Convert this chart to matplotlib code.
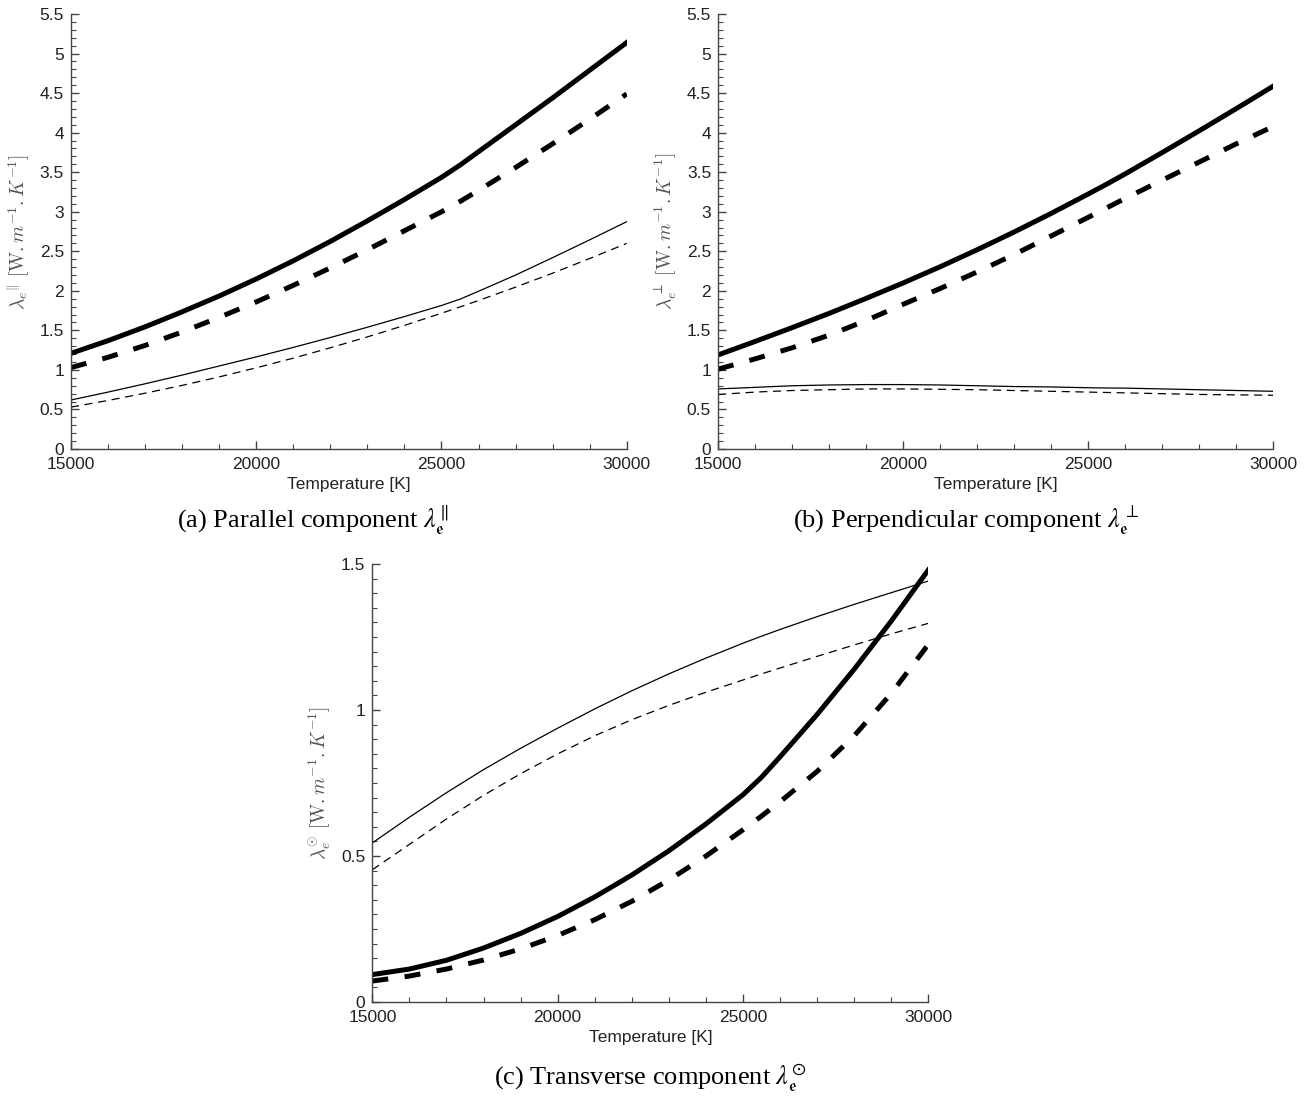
import numpy as np
import matplotlib.pyplot as plt
from matplotlib.ticker import MultipleLocator, FormatStrFormatter

T = [15000, 16000, 17000, 18000, 19000, 20000, 21000, 22000, 23000,
     24000, 25000, 25500, 26000, 27000, 28000, 29000, 30000]

# (a) composante parallele
par_thick = [1.21, 1.37, 1.545, 1.735, 1.935, 2.15, 2.38, 2.625, 2.885,
             3.155, 3.435, 3.59, 3.76, 4.10, 4.44, 4.79, 5.14]
par_thick_dash = [1.03, 1.16, 1.31, 1.48, 1.665, 1.86, 2.07, 2.29, 2.52,
                  2.76, 3.00, 3.13, 3.27, 3.56, 3.86, 4.17, 4.49]
par_thin = [0.62, 0.72, 0.825, 0.935, 1.05, 1.165, 1.285, 1.41, 1.54,
            1.675, 1.815, 1.895, 1.995, 2.20, 2.42, 2.645, 2.875]
par_thin_dash = [0.53, 0.614, 0.706, 0.805, 0.912, 1.027, 1.149, 1.28, 1.418,
                 1.563, 1.717, 1.797, 1.878, 2.047, 2.224, 2.409, 2.60]

# (b) composante perpendiculaire
perp_thick = [1.19, 1.36, 1.535, 1.715, 1.905, 2.10, 2.305, 2.52, 2.745,
              2.98, 3.225, 3.35, 3.48, 3.75, 4.025, 4.305, 4.59]
perp_thick_dash = [1.01, 1.14, 1.28, 1.44, 1.625, 1.83, 2.03, 2.24, 2.46,
                   2.695, 2.93, 3.05, 3.17, 3.40, 3.63, 3.86, 4.08]
perp_thin = [0.76, 0.78, 0.80, 0.81, 0.815, 0.815, 0.81, 0.80, 0.79,
             0.785, 0.775, 0.772, 0.77, 0.76, 0.75, 0.74, 0.73]
perp_thin_dash = [0.69, 0.72, 0.74, 0.75, 0.76, 0.76, 0.755, 0.75, 0.74,
                  0.73, 0.72, 0.715, 0.71, 0.70, 0.69, 0.685, 0.68]

# (c) composante transverse
trans_thick = [0.094, 0.113, 0.143, 0.185, 0.235, 0.293, 0.36, 0.435, 0.518,
               0.61, 0.71, 0.77, 0.84, 0.985, 1.14, 1.305, 1.48]
trans_thick_dash = [0.072, 0.089, 0.113, 0.144, 0.182, 0.228, 0.282, 0.345, 0.418,
                    0.50, 0.59, 0.637, 0.686, 0.79, 0.912, 1.057, 1.225]
trans_thin = [0.545, 0.633, 0.717, 0.796, 0.869, 0.938, 1.004, 1.066, 1.124,
              1.178, 1.229, 1.253, 1.276, 1.32, 1.362, 1.402, 1.442]
trans_thin_dash = [0.453, 0.54, 0.627, 0.708, 0.782, 0.85, 0.912, 0.967, 1.016,
                   1.061, 1.103, 1.124, 1.144, 1.184, 1.223, 1.261, 1.297]

plt.rcParams['font.family'] = ['Liberation Sans', 'DejaVu Sans']

fig = plt.figure(figsize=(13.12, 11.06), dpi=100)

GREY = '#444444'


def panel(rect, series, ymax, ymajor, yminor, ylabel):
    ax = fig.add_axes(rect)
    thick, thick_dash, thin, thin_dash = series
    ax.plot(T, thin, color='black', lw=0.9)
    ax.plot(T, thin_dash, color='black', lw=0.9, dashes=(6.5, 4.5))
    ax.plot(T, thick, color='black', lw=3.6, solid_joinstyle='round')
    ax.plot(T, thick_dash, color='black', lw=3.6, dashes=(3.2, 3.3))
    ax.set_xlim(15000, 30000)
    ax.set_ylim(0, ymax)
    for s in ['top', 'right']:
        ax.spines[s].set_visible(False)
    for s in ['left', 'bottom']:
        ax.spines[s].set_color(GREY)
        ax.spines[s].set_linewidth(1.0)
    ax.xaxis.set_major_locator(MultipleLocator(5000))
    ax.xaxis.set_minor_locator(MultipleLocator(1000))
    ax.yaxis.set_major_locator(MultipleLocator(ymajor))
    ax.yaxis.set_minor_locator(MultipleLocator(yminor))
    ax.yaxis.set_major_formatter(FormatStrFormatter('%g'))
    ax.tick_params(which='both', direction='in', color=GREY, labelcolor='#222222',
                   labelsize=12.5)
    ax.tick_params(which='major', length=6, width=1.0)
    ax.tick_params(which='minor', length=3.5, width=0.8)
    ax.tick_params(axis='x', pad=6)
    ax.tick_params(axis='y', pad=5)
    ax.set_xlabel('Temperature [K]', fontsize=12.5, color='#222222', labelpad=3)
    ax.set_ylabel(ylabel, fontsize=14, color='#555555', math_fontfamily='cm')
    ax.yaxis.set_label_coords(-0.07, 0.5)
    return ax


panel([0.0541, 0.594, 0.4236, 0.3933],
      (par_thick, par_thick_dash, par_thin, par_thin_dash), 5.5, 0.5, 0.1,
      r'$\lambda_e{}^{\|}\ [\mathrm{W}{.}m^{-1}{.}K^{-1}]$')
panel([0.5473, 0.594, 0.4233, 0.3933],
      (perp_thick, perp_thick_dash, perp_thin, perp_thin_dash), 5.5, 0.5, 0.1,
      r'$\lambda_e^{\perp}\ [\mathrm{W}{.}m^{-1}{.}K^{-1}]$')
panel([0.2838, 0.094, 0.4238, 0.396],
      (trans_thick, trans_thick_dash, trans_thin, trans_thin_dash), 1.5, 0.5, 0.05,
      r'$\lambda_e^{\odot}\ [\mathrm{W}{.}m^{-1}{.}K^{-1}]$')

cap = dict(fontsize=19, family='Liberation Serif', math_fontfamily='stix',
           ha='center', va='center')
fig.text(313 / 1312, 1 - 520 / 1106,
         r'(a) Parallel component $\lambda_{\mathfrak{e}}^{\|}$', **cap)
fig.text(966 / 1312, 1 - 520 / 1106,
         r'(b) Perpendicular component $\lambda_{\mathfrak{e}}^{\perp}$', **cap)
fig.text(650 / 1312, 1 - 1078 / 1106,
         r'(c) Transverse component $\lambda_{\mathfrak{e}}^{\odot}$', **cap)

fig.savefig('out.png', dpi=100)
